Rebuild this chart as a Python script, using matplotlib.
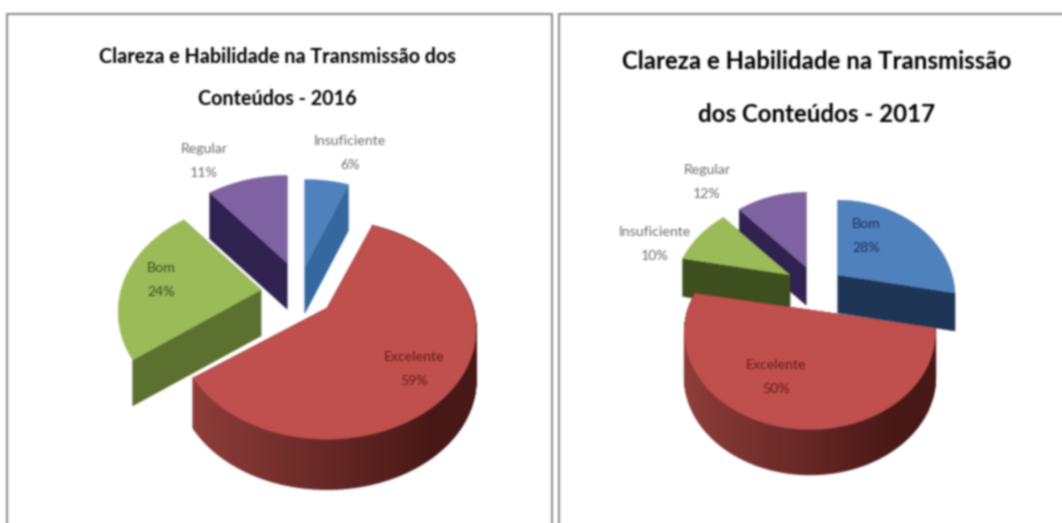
import numpy as np
import matplotlib
matplotlib.use('Agg')
import matplotlib.pyplot as plt
from matplotlib.collections import PolyCollection
from matplotlib.colors import to_rgb

plt.rcParams['font.family'] = ['Lato', 'DejaVu Sans']

# Data, in drawing order (clockwise from 12 o'clock)
cats_2016 = ['Insuficiente', 'Excelente', 'Bom', 'Regular']
vals_2016 = [6, 59, 24, 11]
cats_2017 = ['Bom', 'Excelente', 'Insuficiente', 'Regular']
vals_2017 = [28, 50, 10, 12]

title_2016 = 'Clareza e Habilidade na Transmissão dos\nConteúdos - 2016'
title_2017 = 'Clareza e Habilidade na Transmissão\ndos Conteúdos - 2017'

top_blue, top_red, top_green, top_purple = '#4f81bd', '#c0504d', '#9bbb59', '#7f62a1'


def rim_point(ax_pos, theta, rx, ry, k):
    # theta clockwise from the top, k is the perspective strength
    s = 1 / (1 + k * np.cos(theta))
    return ax_pos[0] + rx * np.sin(theta) * s, ax_pos[1] - ry * np.cos(theta) * s


def draw_slice(ax, apex, a0, a1, rx, ry, k, depth, top, wall, rim_from=None, rim_to=None):
    th = np.linspace(a0, a1, 120)
    x, y = rim_point(apex, th, rx, ry, k)

    # the two cut faces
    for i in (0, -1):
        ax.fill([apex[0], x[i], x[i], apex[0]],
                [apex[1], y[i], y[i] + depth, apex[1] + depth],
                color=wall, lw=0.3, zorder=2)

    # outer wall only on the big front slice, shaded left to right
    if rim_from:
        c0 = np.array(to_rgb(rim_from))
        c1 = np.array(to_rgb(rim_to))
        strips = []
        cols = []
        for i in range(len(th) - 1):
            u = min(1, (x[i] - x.min()) / (x.max() - x.min()) / 0.85)
            strips.append([(x[i], y[i]), (x[i + 1], y[i + 1]),
                           (x[i + 1], y[i + 1] + depth), (x[i], y[i] + depth)])
            cols.append(tuple(c0 + (c1 - c0) * u))
        ax.add_collection(PolyCollection(strips, facecolors=cols, edgecolors=cols, lw=1.0, zorder=2))

    ax.fill(np.r_[apex[0], x], np.r_[apex[1], y], color=top, lw=0.3, zorder=2)


def draw_pie(ax, vals, styles, rx, ry, k, depth):
    edges = np.r_[0, np.cumsum(vals)] / sum(vals) * 2 * np.pi
    for i in styles['order']:
        st = styles['slices'][i]
        draw_slice(ax, st['apex'], edges[i], edges[i + 1], st.get('rx', rx), ry, k,
                   st.get('depth', depth), st['top'], st['wall'],
                   st.get('rim_from'), st.get('rim_to'))


fig = plt.figure(figsize=(10.62, 5.23), dpi=100)
ax = fig.add_axes([0, 0, 1, 1])
ax.set_xlim(0, 1062)
ax.set_ylim(523, 0)
ax.axis('off')

# Frames around the two panels
frame = '#8f8f8f'
ax.plot([7, 7, 552, 552], [523, 14, 14, 523], color=frame, lw=1.5)
ax.plot([559, 559, 1062], [523, 14, 14], color=frame, lw=1.5)

styles_2016 = {
    'order': [3, 0, 2, 1],
    'slices': [
        {'apex': (305, 267), 'top': top_blue, 'wall': '#35689f'},
        {'apex': (327, 308), 'top': top_red, 'wall': '#5a1f1d', 'rx': 146, 'depth': 50,
         'rim_from': '#8f3d3a', 'rim_to': '#481816'},
        {'apex': (261, 290), 'top': top_green, 'wall': '#5c7030'},
        {'apex': (287, 263), 'top': top_purple, 'wall': '#2f2150'},
    ],
}
styles_2017 = {
    'order': [3, 2, 0, 1],
    'slices': [
        {'apex': (838, 275), 'top': top_blue, 'wall': '#1e3555'},
        {'apex': (810, 310), 'top': top_red, 'wall': '#5a1f1d', 'rx': 122, 'depth': 45,
         'rim_from': '#8f3d3a', 'rim_to': '#481816'},
        {'apex': (790, 275), 'top': top_green, 'wall': '#3d4f1e'},
        {'apex': (806, 267), 'top': top_purple, 'wall': '#2f2150'},
    ],
}

draw_pie(ax, vals_2016, styles_2016, 140, 105, 0.2, 46)
draw_pie(ax, vals_2017, styles_2017, 114, 92, 0.23, 38)

# Titles
ax.text(277, 78, title_2016, fontsize=14.2, ha='center', va='center', color='black',
        linespacing=2.4, fontweight='bold')
ax.text(817, 88, title_2017, fontsize=17.3, ha='center', va='center', color='black',
        linespacing=2.6, fontweight='bold')

# Slice labels
label_pos_2016 = [(350, 153), (414, 369), (161, 280), (204, 161)]
label_col_2016 = ['#6e6e6e', '#641d1b', '#35501a', '#6e6e6e']
label_pos_2017 = [(866, 236), (776, 377), (655, 244), (707, 182)]
label_col_2017 = ['#1a3360', '#641d1b', '#6e6e6e', '#6e6e6e']

for cats, vals, pos, cols in [(cats_2016, vals_2016, label_pos_2016, label_col_2016),
                              (cats_2017, vals_2017, label_pos_2017, label_col_2017)]:
    for c, v, p, col in zip(cats, vals, pos, cols):
        ax.text(p[0], p[1], f'{c}\n{v}%', fontsize=10.2, ha='center', va='center',
                color=col, linespacing=2.2, zorder=5)

fig.savefig('out.png', dpi=100, facecolor='white')

# The reference is a soft, resampled image: blur the saved picture a little
img = plt.imread('out.png')[:, :, :3]
kernel = np.array([0.06, 0.24, 0.4, 0.24, 0.06])
for axis in (0, 1):
    img = np.apply_along_axis(lambda m: np.convolve(np.pad(m, 2, mode='edge'), kernel, mode='valid'), axis, img)
plt.imsave('out.png', np.clip(img, 0, 1))
